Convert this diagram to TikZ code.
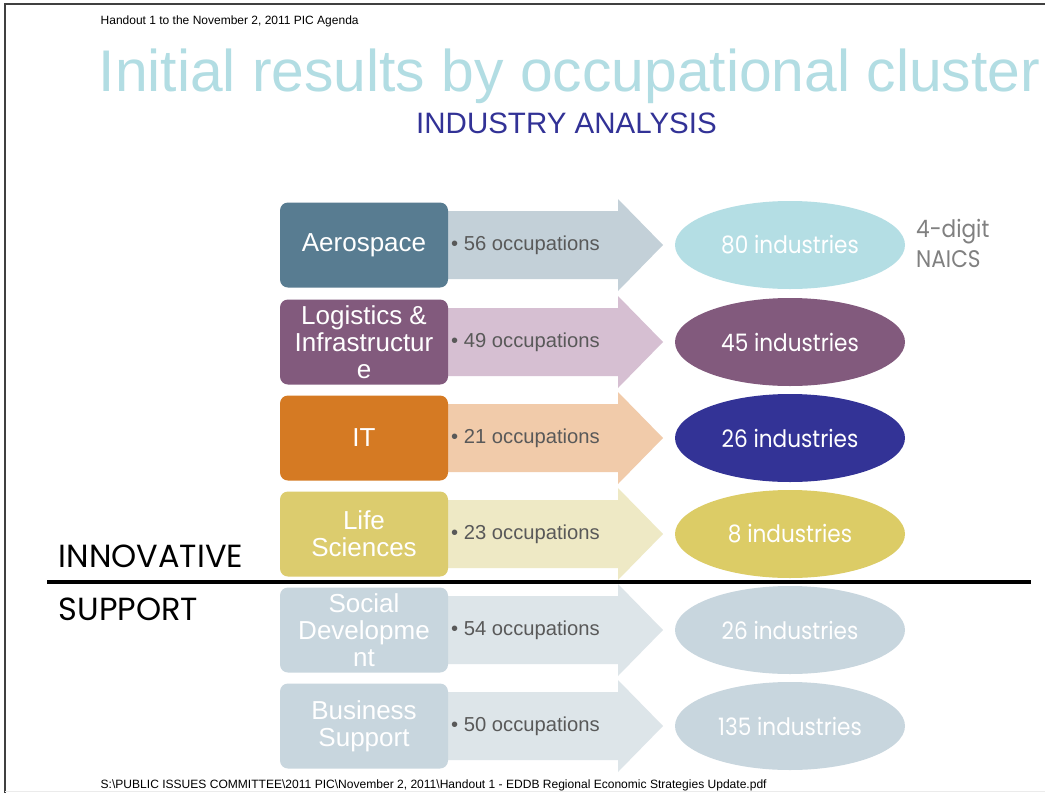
\documentclass[tikz,border=0pt]{standalone}
\usepackage{fontspec}
\setmainfont{Liberation Sans}
\newfontfamily\geo[FakeStretch=0.9]{Poppins}
\newfontfamily\geowide{Poppins}
\usetikzlibrary{shapes.geometric}
\definecolor{titlecol}{RGB}{178,221,227}
\definecolor{subcol}{RGB}{50,50,150}
\definecolor{occcol}{RGB}{89,89,89}
\definecolor{naicscol}{RGB}{128,128,128}
\definecolor{aerobox}{RGB}{88,124,145}
\definecolor{aeroarr}{RGB}{195,208,216}
\definecolor{aeroell}{RGB}{180,222,228}
\definecolor{logbox}{RGB}{130,90,125}
\definecolor{logarr}{RGB}{214,191,210}
\definecolor{logell}{RGB}{130,90,125}
\definecolor{itbox}{RGB}{213,122,35}
\definecolor{itarr}{RGB}{241,203,170}
\definecolor{itell}{RGB}{51,51,150}
\definecolor{lifebox}{RGB}{220,204,110}
\definecolor{lifearr}{RGB}{238,233,197}
\definecolor{lifeell}{RGB}{220,204,102}
\definecolor{supbox}{RGB}{200,214,222}
\definecolor{suparr}{RGB}{221,229,233}
\definecolor{supell}{RGB}{200,214,222}
\tikzset{
  clusterbox/.style={rectangle, rounded corners=8pt, minimum width=168pt, minimum height=85pt,
    inner sep=2pt, align=center, text=white, font=\fontsize{26}{27}\selectfont},
  occtext/.style={anchor=west, inner sep=0pt, text=occcol, font=\fontsize{20.2}{22}\selectfont},
  indell/.style={ellipse, minimum width=230pt, minimum height=88pt, inner sep=0pt,
    text=white, font=\geo\fontsize{24}{26}\selectfont},
  plain/.style={inner sep=0pt, anchor=base west},
}
% #1 id, #2 y, #3 box colour, #4 arrow colour, #5 ellipse colour, #6 box text, #7 occupations, #8 industries
\newcommand\clusterrow[8]{%
  \fill[#4] (440,#2-34) -- (618,#2-34) -- (618,#2-46) -- (663,#2) -- (618,#2+46)
     -- (618,#2+34) -- (440,#2+34) -- cycle;
  \node[clusterbox, fill=#3] (box#1) at (364,#2) {#6};
  \node[occtext] (occ#1) at (451,#2) {\textbullet\ #7 occupations};
  \node[indell, fill=#5] (ell#1) at (790,#2) {#8 industries};
}
\begin{document}
\begin{tikzpicture}[x=1pt, y=-1pt]
\useasboundingbox (0,0) rectangle (1045,793);
\fill[white] (0,0) rectangle (1045,793);
% frame
\draw[line width=1.5pt, black!75] (5,793) -- (5,4) -- (1045,4);
\draw[line width=1pt, black!8] (5,791.5) -- (1045,791.5);
% header / titles
\node[plain, font=\fontsize{12}{13}\selectfont] (header) at (100.5,24.5)
  {Handout 1 to the November 2, 2011 PIC Agenda};
\node[plain, text=titlecol, font=\fontsize{58.8}{60}\selectfont] (title) at (98.5,91)
  {Initial results by occupational cluster};
\node[plain, text=subcol, font=\fontsize{29.5}{31}\selectfont] (subtitle) at (416,133)
  {INDUSTRY ANALYSIS};
% rows
\clusterrow{1}{245}{aerobox}{aeroarr}{aeroell}{Aerospace}{56}{80}
\clusterrow{2}{342}{logbox}{logarr}{logell}{Logistics \&\\Infrastructur\\e}{49}{45}
\clusterrow{3}{438}{itbox}{itarr}{itell}{IT}{21}{26}
\clusterrow{4}{534}{lifebox}{lifearr}{lifeell}{Life\\Sciences}{23}{8}
\clusterrow{5}{630}{supbox}{suparr}{supell}{Social\\Developme\\nt}{54}{26}
\clusterrow{6}{726}{supbox}{suparr}{supell}{Business\\Support}{50}{135}
% NAICS note
\node[anchor=west, inner sep=0pt, align=left, text=naicscol, font=\geo\fontsize{24}{30}\selectfont]
  (naics) at (916,243) {4-digit\\NAICS};
% group labels
\node[plain, font=\geowide\fontsize{32}{33}\selectfont] (innov) at (58.5,567) {INNOVATIVE};
\node[plain, font=\geowide\fontsize{32}{33}\selectfont] (support) at (58.5,620) {SUPPORT};
\draw[line width=3.5pt] (47,582) -- (1031,582);
% footer
\node[plain, font=\fontsize{12.05}{13}\selectfont] (footer) at (100.5,788)
  {S:\textbackslash PUBLIC ISSUES COMMITTEE\textbackslash 2011 PIC\textbackslash November 2, 2011\textbackslash Handout 1 - EDDB Regional Economic Strategies Update.pdf};
\end{tikzpicture}
\end{document}
